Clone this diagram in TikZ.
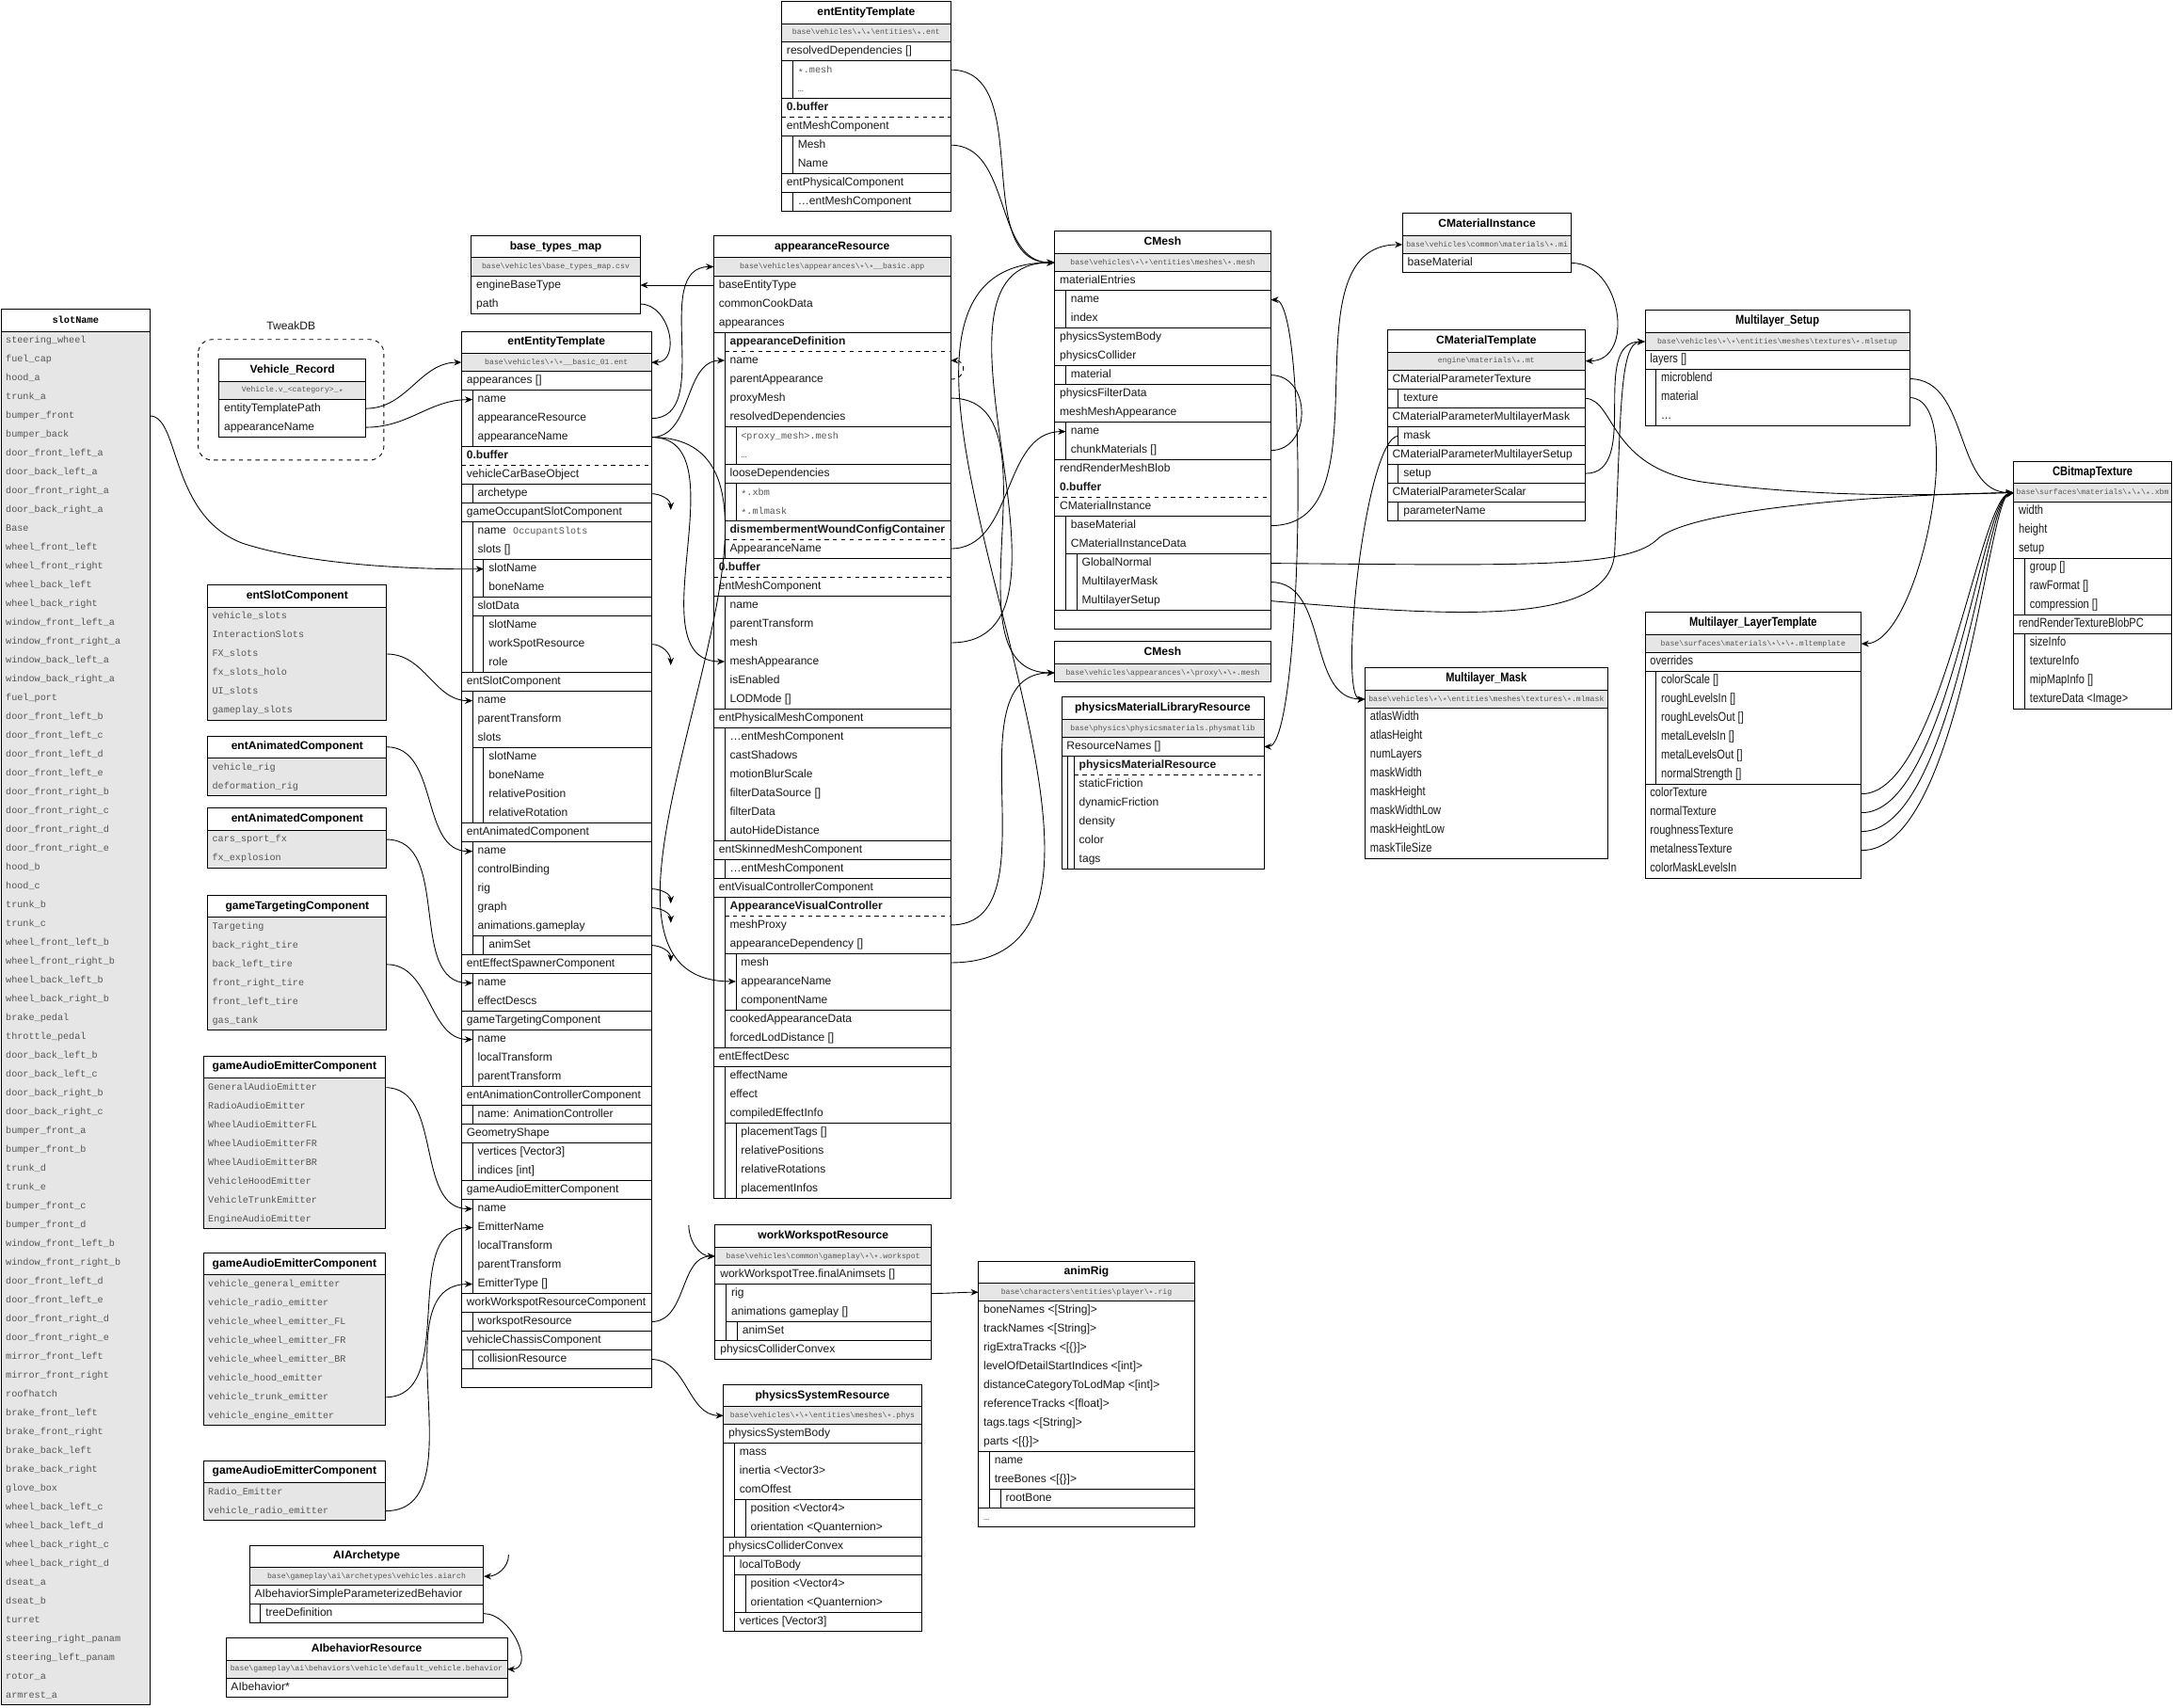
\documentclass[tikz,border=0pt]{standalone}
\usepackage{fontspec}
\setmainfont{Liberation Sans}
\newfontfamily\monofont{Liberation Mono}
\newfontfamily\narrowfont[FakeStretch=0.82]{Liberation Sans}
\usetikzlibrary{arrows.meta}
\definecolor{gfill}{HTML}{E6E6E6}
\definecolor{txtgrey}{HTML}{555555}
\definecolor{ink}{HTML}{1A1A1A}
\newcommand\bs{\textbackslash}
\newcommand\aster{\raisebox{-0.28em}{*}}
\newcommand\myRH{13.58}
\newcommand\myIND{8}
\newcommand\myPAD{3.5}
\newcommand\rowfont{\fontsize{8.2}{9}\selectfont}
\newcommand\titlefont{\bfseries\fontsize{8.2}{9}\selectfont}
\newcommand\subfont{\monofont\fontsize{5.55}{6}\selectfont}
\newcommand\gfont{\monofont\fontsize{6.9}{8}\selectfont}
\newcommand\mg{\monofont\fontsize{6.9}{8}\selectfont\color{txtgrey}}

% #1 id, #2 left, #3 right, #4 top, #5 title, #6 subtitle, #7 rows (lv/ov/text)
\newcommand\ubox[7]{%
  \pgfmathsetmacro\uRS{#4+16}%
  \node[ttl] (#1) at ({(#2+#3)/2},{#4+8}) {#5};
  \coordinate (#1-tl) at (#2,{#4+8});
  \coordinate (#1-tr) at (#3,{#4+8});
  \def\uSUB{#6}%
  \ifx\uSUB\empty\else
    \fill[gfill] (#2,\uRS) rectangle (#3,\uRS+13);
    \node[subtxt] (#1-s) at ({(#2+#3)/2},\uRS+6.5) {#6};
    \coordinate (#1-sl) at (#2,\uRS+6.5);
    \coordinate (#1-sr) at (#3,\uRS+6.5);
    \draw[bline] (#2,\uRS) -- (#3,\uRS);
    \pgfmathsetmacro\uRS{\uRS+13}%
  \fi
  \def\uROWS{#7}%
  \ifx\uROWS\empty
    \pgfmathsetmacro\uBB{\uRS}%
  \else
  \draw[bline] (#2,\uRS) -- (#3,\uRS);
  \xdef\prevlv{0}\xdef\nrows{0}%
  \foreach \lv/\ov/\tx [count=\i from 0] in {#7}{%
    \pgfmathsetmacro\uYT{\uRS+\i*\myRH}%
    \pgfmathsetmacro\uYC{\uRS+(\i+0.5)*\myRH}%
    \ifnum\ov=-2\relax
      \ifnum\lv=\prevlv\relax\else
        \pgfmathtruncatemacro\uKK{min(\lv,\prevlv)}%
        \draw[bline] ({#2+\uKK*\myIND},\uYT) -- (#3,\uYT);
      \fi
    \else
      \ifnum\ov>-1\relax
        \ifnum\ov<10\relax
          \draw[bline] ({#2+\ov*\myIND},\uYT) -- (#3,\uYT);
        \else
          \draw[bline,dashed] ({#2+(\ov-10)*\myIND},\uYT) -- (#3,\uYT);
        \fi
      \fi
    \fi
    \ifnum\lv>0\relax
      \foreach \j in {1,...,\lv}{\draw[bline] ({#2+\j*\myIND},\uYT) -- ++(0,\myRH);}%
    \fi
    \node[rowtxt] (#1-\i) at ({#2+\lv*\myIND+\myPAD},\uYC) {\tx};
    \coordinate (#1-\i-l) at ({#2+\lv*\myIND},\uYC);
    \coordinate (#1-\i-r) at (#3,\uYC);
    \xdef\prevlv{\lv}\xdef\nrows{\i}%
  }%
  \pgfmathsetmacro\uBB{\uRS+(\nrows+1)*\myRH}%
  \fi
  \draw[bline] (#2,#4) rectangle (#3,\uBB);
}

% grey list box: #1 id, #2 left, #3 right, #4 top, #5 title, #6 rows
\newcommand\gbox[6]{%
  \pgfmathsetmacro\uRS{#4+16}%
  \node[ttl] (#1) at ({(#2+#3)/2},{#4+8}) {#5};
  \coordinate (#1-tr) at (#3,{#4+8});
  \xdef\nrows{0}%
  \foreach \tx [count=\i from 0] in {#6}{\xdef\nrows{\i}}%
  \pgfmathsetmacro\uBB{\uRS+(\nrows+1)*\myRH}%
  \fill[gfill] (#2,\uRS) rectangle (#3,\uBB);
  \draw[bline] (#2,\uRS) -- (#3,\uRS);
  \foreach \tx [count=\i from 0] in {#6}{%
    \pgfmathsetmacro\uYC{\uRS+(\i+0.5)*\myRH}%
    \node[gtxt] (#1-\i) at ({#2+3},\uYC) {\tx};
    \coordinate (#1-\i-r) at (#3,\uYC);
  }%
  \draw[bline] (#2,#4) rectangle (#3,\uBB);
}

\begin{document}
\begin{tikzpicture}[x=1pt,y=-1pt,
  bline/.style={line width=0.6pt, draw=black},
  ttl/.style={font=\titlefont, text=black, inner sep=0pt, text height=6pt, text depth=1.8pt},
  subtxt/.style={font=\subfont, text=txtgrey, inner sep=0pt, text height=4.2pt, text depth=1.2pt},
  rowtxt/.style={font=\rowfont, text=ink, anchor=west, inner sep=0pt, text height=6pt, text depth=1.8pt},
  gtxt/.style={font=\gfont, text=txtgrey, anchor=west, inner sep=0pt, text height=5pt, text depth=1.5pt},
  conn/.style={line width=0.6pt, -{Stealth[length=5.5pt,width=4.5pt]}},
  link/.style={line width=0.6pt},
]
\fill[white] (0,0) rectangle (1568,1232);
\useasboundingbox (0,0) rectangle (1568,1232);

% ---------- slotName list ----------
\gbox{SN}{1}{108}{223}{{\monofont\bfseries\fontsize{7}{8}\selectfont slotName}}{steering\_wheel, fuel\_cap, hood\_a, trunk\_a, bumper\_front, bumper\_back, door\_front\_left\_a, door\_back\_left\_a, door\_front\_right\_a, door\_back\_right\_a, Base, wheel\_front\_left, wheel\_front\_right, wheel\_back\_left, wheel\_back\_right, window\_front\_left\_a, window\_front\_right\_a, window\_back\_left\_a, window\_back\_right\_a, fuel\_port, door\_front\_left\_b, door\_front\_left\_c, door\_front\_left\_d, door\_front\_left\_e, door\_front\_right\_b, door\_front\_right\_c, door\_front\_right\_d, door\_front\_right\_e, hood\_b, hood\_c, trunk\_b, trunk\_c, wheel\_front\_left\_b, wheel\_front\_right\_b, wheel\_back\_left\_b, wheel\_back\_right\_b, brake\_pedal, throttle\_pedal, door\_back\_left\_b, door\_back\_left\_c, door\_back\_right\_b, door\_back\_right\_c, bumper\_front\_a, bumper\_front\_b, trunk\_d, trunk\_e, bumper\_front\_c, bumper\_front\_d, window\_front\_left\_b, window\_front\_right\_b, door\_front\_left\_d, door\_front\_left\_e, door\_front\_right\_d, door\_front\_right\_e, mirror\_front\_left, mirror\_front\_right, roofhatch, brake\_front\_left, brake\_front\_right, brake\_back\_left, brake\_back\_right, glove\_box, wheel\_back\_left\_c, wheel\_back\_left\_d, wheel\_back\_right\_c, wheel\_back\_right\_d, dseat\_a, dseat\_b, turret, steering\_right\_panam, steering\_left\_panam, rotor\_a, armrest\_a}

% ---------- TweakDB ----------
\draw[line width=0.6pt, dashed, rounded corners=10pt] (143,245) rectangle (277,332);
\node[font=\rowfont, text=ink, inner sep=0pt] (tweakdb) at (210,235) {TweakDB};
\ubox{VR}{158}{264}{259}{Vehicle\_Record}{Vehicle.v\_<category>\_\aster}{0/-2/entityTemplatePath, 0/-2/appearanceName}

% ---------- left grey lists ----------
\gbox{SC}{150}{279}{422}{entSlotComponent}{vehicle\_slots, InteractionSlots, FX\_slots, fx\_slots\_holo, UI\_slots, gameplay\_slots}
\gbox{AC1}{150}{279}{531}{entAnimatedComponent}{vehicle\_rig, deformation\_rig}
\gbox{AC2}{150}{279}{583}{entAnimatedComponent}{cars\_sport\_fx, fx\_explosion}
\gbox{TC}{150}{279}{646}{gameTargetingComponent}{Targeting, back\_right\_tire, back\_left\_tire, front\_right\_tire, front\_left\_tire, gas\_tank}
\gbox{GA1}{147}{278}{762}{gameAudioEmitterComponent}{GeneralAudioEmitter, RadioAudioEmitter, WheelAudioEmitterFL, WheelAudioEmitterFR, WheelAudioEmitterBR, VehicleHoodEmitter, VehicleTrunkEmitter, EngineAudioEmitter}
\gbox{GA2}{147}{278}{904}{gameAudioEmitterComponent}{vehicle\_general\_emitter, vehicle\_radio\_emitter, vehicle\_wheel\_emitter\_FL, vehicle\_wheel\_emitter\_FR, vehicle\_wheel\_emitter\_BR, vehicle\_hood\_emitter, vehicle\_trunk\_emitter, vehicle\_engine\_emitter}
\gbox{GA3}{147}{278}{1054}{gameAudioEmitterComponent}{Radio\_Emitter, vehicle\_radio\_emitter}

% ---------- AI ----------
\ubox{AA}{180}{349}{1115}{AIArchetype}{base\bs gameplay\bs ai\bs archetypes\bs vehicles.aiarch}{0/-2/AIbehaviorSimpleParameterizedBehavior, 1/-2/treeDefinition}
\ubox{AB}{163}{366}{1182}{AIbehaviorResource}{base\bs gameplay\bs ai\bs behaviors\bs vehicle\bs default\_vehicle.behavior}{0/-2/AIbehavior*}

% ---------- base_types_map ----------
\ubox{BT}{340}{462}{170}{base\_types\_map}{base\bs vehicles\bs base\_types\_map.csv}{0/-2/engineBaseType, 0/-2/path}

% ---------- main entEntityTemplate ----------
\ubox{ET}{333}{470}{239}{entEntityTemplate}{base\bs vehicles\bs \aster\bs \aster\_\_basic\_01.ent}{
0/-2/appearances [],
1/-2/name,
1/-2/appearanceResource,
1/-2/appearanceName,
0/-2/\textbf{0.buffer},
0/10/vehicleCarBaseObject,
1/-2/archetype,
0/-2/gameOccupantSlotComponent,
1/-2/{name\hspace{5pt}{\mg OccupantSlots}},
1/-2/slots [],
2/-2/slotName,
2/-2/boneName,
1/-2/slotData,
2/-2/slotName,
2/-2/workSpotResource,
2/-2/role,
0/-2/entSlotComponent,
1/-2/name,
1/-2/parentTransform,
1/-2/slots,
2/-2/slotName,
2/-2/boneName,
2/-2/relativePosition,
2/-2/relativeRotation,
0/-2/entAnimatedComponent,
1/-2/name,
1/-2/controlBinding,
1/-2/rig,
1/-2/graph,
1/-2/animations.gameplay,
2/-2/animSet,
0/-2/entEffectSpawnerComponent,
1/-2/name,
1/-2/effectDescs,
0/-2/gameTargetingComponent,
1/-2/name,
1/-2/localTransform,
1/-2/parentTransform,
0/-2/entAnimationControllerComponent,
1/-2/name: AnimationController,
0/-2/GeometryShape,
1/-2/vertices [Vector3],
1/-2/indices [int],
0/-2/gameAudioEmitterComponent,
1/-2/name,
1/-2/EmitterName,
1/-2/localTransform,
1/-2/parentTransform,
1/-2/EmitterType [],
0/-2/workWorkspotResourceComponent,
1/-2/workspotResource,
0/-2/vehicleChassisComponent,
1/-2/collisionResource,
0/-2/{}}

% ---------- top entEntityTemplate ----------
\ubox{ET2}{564}{686}{1}{entEntityTemplate}{base\bs vehicles\bs \aster\bs \aster\bs entities\bs \aster.ent}{
0/-2/resolvedDependencies [],
1/-2/{\mg\aster.mesh},
1/-2/{\mg\textellipsis},
0/-2/\textbf{0.buffer},
0/10/entMeshComponent,
1/-2/Mesh,
1/-2/Name,
0/-2/entPhysicalComponent,
1/-2/\textellipsis entMeshComponent}

% ---------- appearanceResource ----------
\ubox{AR}{515}{686}{170}{appearanceResource}{base\bs vehicles\bs appearances\bs \aster\bs \aster\_\_basic.app}{
0/-2/baseEntityType,
0/-2/commonCookData,
0/-2/appearances,
1/-2/\textbf{appearanceDefinition},
1/11/name,
1/-2/parentAppearance,
1/-2/proxyMesh,
1/-2/resolvedDependencies,
2/-2/{\mg <proxy\_mesh>.mesh},
2/-2/{\mg\textellipsis},
1/-2/looseDependencies,
2/-2/{\mg\aster.xbm},
2/-2/{\mg\aster.mlmask},
1/-2/\textbf{dismembermentWoundConfigContainer},
1/11/AppearanceName,
0/-2/\textbf{0.buffer},
0/10/entMeshComponent,
1/-2/name,
1/-2/parentTransform,
1/-2/mesh,
1/-2/meshAppearance,
1/-2/isEnabled,
1/-2/LODMode [],
0/-2/entPhysicalMeshComponent,
1/-2/\textellipsis entMeshComponent,
1/-2/castShadows,
1/-2/motionBlurScale,
1/-2/filterDataSource [],
1/-2/filterData,
1/-2/autoHideDistance,
0/-2/entSkinnedMeshComponent,
1/-2/\textellipsis entMeshComponent,
0/-2/entVisualControllerComponent,
1/-2/\textbf{AppearanceVisualController},
1/11/meshProxy,
1/-2/appearanceDependency [],
2/-2/mesh,
2/-2/appearanceName,
2/-2/componentName,
1/-2/cookedAppearanceData,
1/-2/forcedLodDistance [],
0/-2/entEffectDesc,
1/-2/effectName,
1/-2/effect,
1/-2/compiledEffectInfo,
2/-2/placementTags [],
2/-2/relativePositions,
2/-2/relativeRotations,
2/-2/placementInfos}

% ---------- workspot / physics / animRig ----------
\ubox{WW}{516}{672}{884}{workWorkspotResource}{base\bs vehicles\bs common\bs gameplay\bs \aster\bs \aster.workspot}{
0/-2/workWorkspotTree.finalAnimsets [],
1/-2/rig,
1/-2/animations gameplay [],
2/-2/animSet,
0/-2/physicsColliderConvex}
\ubox{PS}{522}{665}{999}{physicsSystemResource}{base\bs vehicles\bs \aster\bs \aster\bs entities\bs meshes\bs \aster.phys}{
0/-2/physicsSystemBody,
1/-2/mass,
1/-2/inertia <Vector3>,
1/-2/comOffest,
2/-2/position <Vector4>,
2/-2/orientation <Quanternion>,
0/-2/physicsColliderConvex,
1/-2/localToBody,
2/-2/position <Vector4>,
2/-2/orientation <Quanternion>,
1/-2/vertices [Vector3]}
\ubox{AN}{706}{862}{910}{animRig}{base\bs characters\bs entities\bs player\bs \aster.rig}{
0/-2/boneNames <[String]>,
0/-2/trackNames <[String]>,
0/-2/{rigExtraTracks <[\{\}]>},
0/-2/levelOfDetailStartIndices <[int]>,
0/-2/distanceCategoryToLodMap <[int]>,
0/-2/referenceTracks <[float]>,
0/-2/tags.tags <[String]>,
0/-2/{parts <[\{\}]>},
1/-2/name,
1/-2/{treeBones <[\{\}]>},
2/-2/rootBone,
0/-2/{\mg\textellipsis}}

% ---------- CMesh ----------
\ubox{CM}{761}{917}{167}{CMesh}{base\bs vehicles\bs \aster\bs \aster\bs entities\bs meshes\bs \aster.mesh}{
0/-2/materialEntries,
1/-2/name,
1/-2/index,
0/-2/physicsSystemBody,
0/-2/physicsCollider,
1/-2/material,
0/-2/physicsFilterData,
0/-2/meshMeshAppearance,
1/-2/name,
1/-2/chunkMaterials [],
0/-2/rendRenderMeshBlob,
0/-2/\textbf{0.buffer},
0/10/CMaterialInstance,
1/-2/baseMaterial,
1/-2/CMaterialInstanceData,
2/-2/GlobalNormal,
2/-2/MultilayerMask,
2/-2/MultilayerSetup,
0/-2/{}}
\ubox{CMP}{761}{917}{463}{CMesh}{base\bs vehicles\bs appearances\bs \aster\bs proxy\bs \aster\bs \aster.mesh}{}
\begin{scope}
\renewcommand\myIND{4.5}
\ubox{PM}{766}{912}{503}{physicsMaterialLibraryResource}{base\bs physics\bs physicsmaterials.physmatlib}{
0/-2/ResourceNames [],
2/-2/\textbf{physicsMaterialResource},
2/12/staticFriction,
2/-2/dynamicFriction,
2/-2/density,
2/-2/color,
2/-2/tags}
\end{scope}

% ---------- materials ----------
\ubox{CI}{1012}{1134}{154}{CMaterialInstance}{base\bs vehicles\bs common\bs materials\bs \aster.mi}{0/-2/baseMaterial}
\ubox{CT}{1001}{1144}{238}{CMaterialTemplate}{engine\bs materials\bs \aster.mt}{
0/-2/CMaterialParameterTexture,
1/-2/texture,
0/-2/CMaterialParameterMultilayerMask,
1/-2/mask,
0/-2/CMaterialParameterMultilayerSetup,
1/-2/setup,
0/-2/CMaterialParameterScalar,
1/-2/parameterName}

\begin{scope}
\renewcommand\rowfont{\narrowfont\fontsize{9.2}{10}\selectfont}
\renewcommand\titlefont{\narrowfont\bfseries\fontsize{9.2}{10}\selectfont}
\ubox{MS}{1187}{1378}{224}{Multilayer\_Setup}{base\bs vehicles\bs \aster\bs \aster\bs entities\bs meshes\bs textures\bs \aster.mlsetup}{
0/-2/layers [],
1/-2/microblend,
1/-2/material,
1/-2/{\textellipsis}}
\ubox{CB}{1453}{1567}{333}{CBitmapTexture}{base\bs surfaces\bs materials\bs \aster\bs \aster\bs \aster.xbm}{
0/-2/width,
0/-2/height,
0/-2/setup,
1/-2/group [],
1/-2/rawFormat [],
1/-2/compression [],
0/-2/rendRenderTextureBlobPC,
1/-2/sizeInfo,
1/-2/textureInfo,
1/-2/mipMapInfo [],
1/-2/textureData <Image>}
\ubox{MLT}{1187}{1343}{442}{Multilayer\_LayerTemplate}{base\bs surfaces\bs materials\bs \aster\bs \aster\bs \aster.mltemplate}{
0/-2/overrides,
1/-2/colorScale [],
1/-2/roughLevelsIn [],
1/-2/roughLevelsOut [],
1/-2/metalLevelsIn [],
1/-2/metalLevelsOut [],
1/-2/normalStrength [],
0/-2/colorTexture,
0/-2/normalTexture,
0/-2/roughnessTexture,
0/-2/metalnessTexture,
0/-2/colorMaskLevelsIn}
\ubox{MM}{985}{1160}{482}{Multilayer\_Mask}{base\bs vehicles\bs \aster\bs \aster\bs entities\bs meshes\bs textures\bs \aster.mlmask}{
0/-2/atlasWidth,
0/-2/atlasHeight,
0/-2/numLayers,
0/-2/maskWidth,
0/-2/maskHeight,
0/-2/maskWidthLow,
0/-2/maskHeightLow,
0/-2/maskTileSize}
\end{scope}

% ================= connectors =================
\draw[conn] (VR-0-r) to[out=0,in=180] (ET-sl);
\draw[conn] (VR-1-r) to[out=0,in=180] (ET-1-l);
\draw[conn] (SN-4-r) .. controls (130,300) and (122,372) .. (175,392) .. controls (230,410) and (320,411) .. (ET-10-l);
\draw[conn] (SC-2-r) to[out=0,in=180] (ET-17-l);
\draw[conn] (AC1-tr) to[out=0,in=180] (ET-25-l);
\draw[conn] (AC2-0-r) to[out=0,in=180] (ET-32-l);
\draw[conn] (TC-2-r) to[out=0,in=180] (ET-35-l);
\draw[conn] (GA1-0-r) to[out=0,in=180] (ET-44-l);
\draw[conn] (GA2-6-r) to[out=0,in=180] (ET-45-l);
\draw[conn] (GA3-1-r) to[out=0,in=180] (ET-48-l);
\draw[conn] (BT-1-r) to[out=0,in=0,looseness=1.3] (ET-sr);
\draw[conn] (AR-0-l) -- (BT-0-r);
\draw[conn] (ET-2-r) to[out=0,in=180] (AR-sl);
\draw[conn] (ET-3-r) to[out=0,in=180] (AR-4-l);
\draw[conn] (ET-3-r) to[out=0,in=180] (AR-20-l);
\draw[conn] (ET-3-r) to[out=0,in=180] (AR-37-l);
\draw[conn] (ET-50-r) to[out=0,in=180] (WW-sl);
\draw[conn] (ET-52-r) to[out=0,in=180] (PS-sl);
\draw[conn] (WW-1-r) to[out=0,in=180] (AN-sl);
\draw[conn] (AA-1-r) to[out=0,in=0,looseness=1.2] (AB-sr);
% stubs
\coordinate (stA) at (484,368);
\coordinate (stB) at (484,480);
\coordinate (stC) at (484,652);
\coordinate (stD) at (484,666);
\coordinate (stE) at (484,694);
\coordinate (stW) at (497,884);
\coordinate (stAA) at (367,1122);
\draw[conn] (ET-6-r) to[out=0,in=90] (stA);
\draw[conn] (ET-14-r) to[out=0,in=90] (stB);
\draw[conn] (ET-27-r) to[out=0,in=90] (stC);
\draw[conn] (ET-28-r) to[out=0,in=90] (stD);
\draw[conn] (ET-30-r) to[out=0,in=90] (stE);
\draw[conn] (stW) to[out=-90,in=180] (WW-sl);
\draw[conn] (stAA) to[out=-90,in=0] (AA-sr);
% mesh side
\draw[conn] (ET2-1-r) to[out=0,in=180] (CM-sl);
\draw[conn] (ET2-5-r) to[out=0,in=180] (CM-sl);
\draw[conn] (AR-6-r) to[out=0,in=180] (CMP-sl);
\draw[conn,dashed] (AR-5-r) to[out=0,in=0,looseness=2.2] (AR-4-r);
\draw[conn] (AR-14-r) to[out=0,in=180] (CM-8-l);
\draw[conn] (AR-19-r) to[out=0,in=180] (CM-sl);
\draw[conn] (AR-34-r) to[out=0,in=180] (CMP-sl);
\draw[conn] (AR-36-r) to[out=0,in=180] (CM-sl);
\draw[link] (CM-5-r) to[out=0,in=0,looseness=1.4] (CM-9-r);
\draw[line width=0.6pt, {Stealth[length=5.5pt,width=4.5pt]}-{Stealth[length=5.5pt,width=4.5pt]}] (CM-1-r) .. controls +(28,0) and +(28,0) .. (PM-0-r);
\draw[conn] (CM-13-r) to[out=0,in=180] (CI-sl);
\draw[conn] (CM-15-r) .. controls (1100,408) and (1172,410) .. (1195,390) .. controls (1215,368) and (1350,357) .. (CB-sl);
\draw[conn] (CM-16-r) to[out=0,in=180] (MM-sl);
\draw[conn] (CM-17-r) .. controls (1050,445) and (1160,452) .. (1165,400) .. controls (1170,300) and (1168,247) .. (MS-sl);
\draw[conn] (CI-0-r) to[out=0,in=0,looseness=1.3] (CT-sr);
\draw[conn] (CT-1-r) .. controls (1166,289) and (1160,338) .. (1230,348) .. controls (1320,360) and (1400,357) .. (CB-sl);
\draw[conn] (CT-3-l) .. controls (985,316) and (965,506) .. (MM-sl);
\draw[conn] (CT-5-r) to[out=0,in=180] (MS-sl);
\draw[conn] (MS-1-r) to[out=0,in=180] (CB-sl);
\draw[conn] (MS-2-r) to[out=0,in=0,looseness=0.6] (MLT-sr);
\draw[conn] (MLT-7-r) .. controls (1400,574) and (1428,360) .. (CB-sl);
\draw[conn] (MLT-8-r) .. controls (1405,588) and (1430,360) .. (CB-sl);
\draw[conn] (MLT-9-r) .. controls (1410,601) and (1432,360) .. (CB-sl);
\draw[conn] (MLT-10-r) .. controls (1415,615) and (1434,360) .. (CB-sl);
\end{tikzpicture}
\end{document}
